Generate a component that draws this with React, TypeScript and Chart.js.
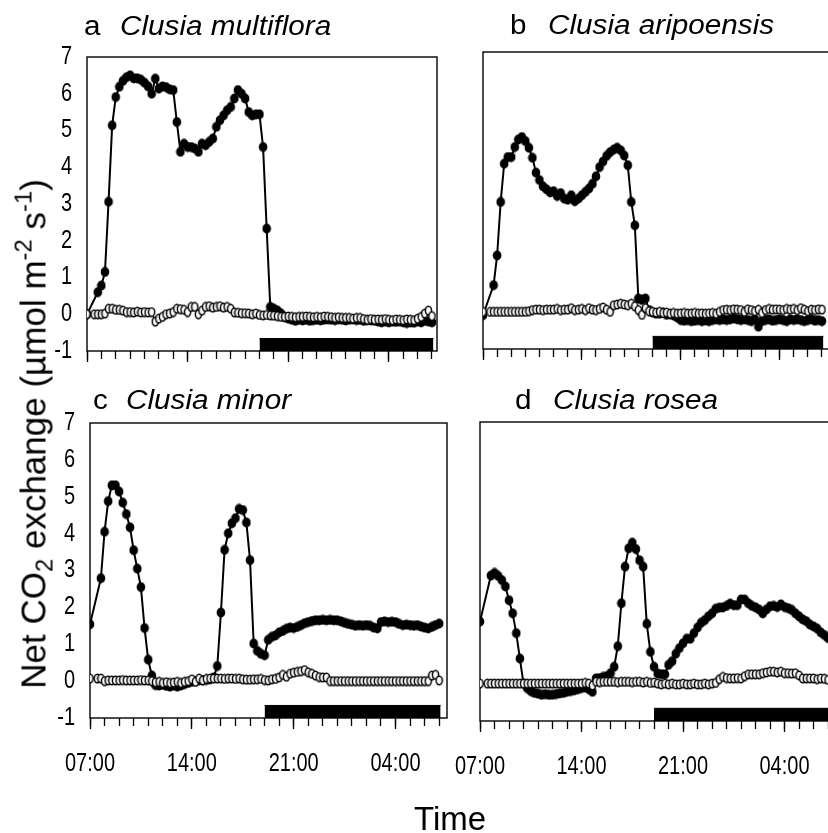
import React, { useEffect, useRef } from "react";
import { Chart, registerables } from "chart.js";

Chart.register(...registerables);

// ---------------- data ----------------
// sampling times, hours after 07:00 (15-minute steps)
const HOURS = [
  0, 0.25, 0.5, 0.75,
  1, 1.25, 1.5, 1.75,
  2, 2.25, 2.5, 2.75,
  3, 3.25, 3.5, 3.75,
  4, 4.25, 4.5, 4.75,
  5, 5.25, 5.5, 5.75,
  6, 6.25, 6.5, 6.75,
  7, 7.25, 7.5, 7.75,
  8, 8.25, 8.5, 8.75,
  9, 9.25, 9.5, 9.75,
  10, 10.25, 10.5, 10.75,
  11, 11.25, 11.5, 11.75,
  12, 12.25, 12.5, 12.75,
  13, 13.25, 13.5, 13.75,
  14, 14.25, 14.5, 14.75,
  15, 15.25, 15.5, 15.75,
  16, 16.25, 16.5, 16.75,
  17, 17.25, 17.5, 17.75,
  18, 18.25, 18.5, 18.75,
  19, 19.25, 19.5, 19.75,
  20, 20.25, 20.5, 20.75,
  21, 21.25, 21.5, 21.75,
  22, 22.25, 22.5, 22.75,
  23, 23.25, 23.5, 23.75,
  24,
];

const TIME_TICK_LABELS = ["07:00", "14:00", "21:00", "04:00"];
const MAJOR_TICK_STEP = 7; // hours between labelled ticks
const Y_MIN = -1;
const Y_MAX = 7;
const DARK_START = 12; // 19:00
const DARK_END = 24.1;
const DARK_BAR_BOTTOM = -1;
const DARK_BAR_TOP = -0.66;

// a  Clusia multiflora
const multifloraFilled = [
  0.0, null, null, 0.6,
  0.78, 1.15, 3.06, 5.14,
  5.91, 6.19, 6.35, 6.45,
  6.5, 6.42, 6.42, 6.38,
  6.3, 6.2, 6.0, 6.41,
  6.14, 6.2, 6.18, 6.12,
  6.1, 5.23, 4.42, 4.64,
  4.55, 4.55, 4.51, 4.42,
  4.64, 4.6, 4.69, 4.78,
  5.1, 5.28, 5.41, 5.55,
  5.64, 5.87, 6.1, 6.0,
  5.87, 5.5, 5.41, 5.44,
  5.44, 4.55, 2.33, 0.2,
  0.15, 0.1, 0.02, -0.08,
  -0.12, -0.15, -0.18, -0.15,
  -0.17, -0.15, -0.18, -0.16,
  -0.15, -0.17, -0.15, -0.14,
  -0.15, -0.16, -0.14, -0.15,
  -0.17, -0.15, -0.14, -0.16,
  -0.15, -0.18, -0.16, -0.17,
  -0.18, -0.2, -0.22, -0.2,
  -0.22, -0.2, -0.21, -0.2,
  -0.22, -0.24, -0.22, -0.23,
  -0.2, -0.22, -0.18, -0.2,
  -0.22,
];
const multifloraOpen = [
  0.0, null, 0.0, 0.0,
  0.0, 0.02, 0.15, 0.15,
  0.12, 0.12, 0.1, 0.06,
  0.06, 0.05, 0.07, 0.05,
  0.06, 0.05, 0.06, -0.2,
  -0.12, -0.07, 0.0, 0.02,
  0.06, 0.15, 0.14, 0.12,
  0.06, 0.2, 0.2, 0.0,
  0.1, 0.2, 0.22, 0.18,
  0.2, 0.22, 0.18, 0.2,
  0.15, 0.05, 0.04, 0.03,
  0.03, 0.02, 0.0, 0.02,
  -0.02, -0.03, -0.02, -0.03,
  -0.04, -0.05, -0.07, -0.07,
  -0.06, -0.07, -0.08, -0.07,
  -0.07, -0.06, -0.07, -0.08,
  -0.07, -0.08, -0.06, -0.07,
  -0.08, -0.1, -0.08, -0.1,
  -0.1, -0.1, -0.12, -0.1,
  -0.1, -0.13, -0.15, -0.13,
  -0.15, -0.14, -0.15, -0.13,
  -0.15, -0.16, -0.14, -0.15,
  -0.16, -0.14, -0.15, -0.16,
  -0.12, -0.07, 0.02, 0.1,
  -0.05,
];

// b  Clusia aripoensis
const aripoensisFilled = [
  -0.09, null, null, 0.72,
  1.52, 2.96, 3.99, 4.17,
  4.17, 4.44, 4.64, 4.71,
  4.6, 4.42, 4.15, 3.75,
  3.55, 3.38, 3.3, 3.22,
  3.25, 3.12, 3.2, 3.05,
  3.02, 3.14, 2.98, 3.05,
  3.14, 3.23, 3.32, 3.45,
  3.65, 3.9, 4.05, 4.2,
  4.3, 4.37, 4.42, 4.35,
  4.21, 3.95, 2.96, 2.33,
  0.36, 0.32, 0.36, 0.05,
  -0.02, -0.05, -0.05, -0.03,
  -0.08, -0.06, -0.1, -0.15,
  -0.22, -0.24, -0.22, -0.25,
  -0.24, -0.22, -0.25, -0.23,
  -0.25, -0.22, -0.2, -0.22,
  -0.2, -0.22, -0.2, -0.18,
  -0.2, -0.22, -0.2, -0.22,
  -0.25, -0.2, -0.4, -0.25,
  -0.22, -0.2, -0.24, -0.22,
  -0.2, -0.22, -0.25, -0.2,
  -0.22, -0.2, -0.22, -0.25,
  -0.22, -0.2, -0.24, -0.22,
  -0.25,
];
const aripoensisOpen = [
  0.0, null, 0.0, 0.0,
  0.0, 0.0, 0.0, 0.0,
  0.0, 0.0, 0.0, 0.0,
  0.0, 0.02, 0.05, 0.06,
  0.06, 0.05, 0.06, 0.06,
  0.06, 0.08, 0.05, 0.06,
  0.06, 0.1, 0.05, 0.06,
  0.08, 0.05, 0.1, 0.06,
  0.05, 0.08, 0.12, 0.06,
  0.0, 0.18, 0.2, 0.22,
  0.2, 0.18, 0.22, 0.15,
  0.05, -0.08, 0.1, 0.02,
  0.0, -0.02, 0.0, -0.03,
  -0.02, -0.05, -0.03, -0.05,
  -0.04, -0.03, -0.05, -0.04,
  -0.03, -0.05, -0.04, -0.05,
  -0.04, -0.03, -0.05, 0.0,
  0.05, 0.06, 0.05, 0.07,
  0.06, 0.05, 0.0, 0.07,
  0.05, 0.02, 0.06, -0.03,
  0.05, 0.08, 0.06, 0.07,
  0.06, 0.05, 0.08, 0.06,
  0.08, 0.05, 0.1, 0.06,
  0.02, 0.06, 0.05, 0.07,
  0.06,
];

// c  Clusia minor
const minorFilled = [
  1.54, null, null, 2.79,
  4.05, 4.88, 5.31, 5.31,
  5.14, 4.84, 4.53, 4.17,
  3.55, 3.05, 2.55, 1.44,
  0.58, 0.15, -0.11, -0.12,
  -0.1, -0.13, -0.15, -0.12,
  -0.15, -0.12, -0.08, -0.05,
  -0.02, 0.0, 0.02, 0.03,
  0.03, 0.05, 0.1, 0.41,
  1.86, 3.56, 4.01, 4.28,
  4.42, 4.67, 4.64, 4.3,
  3.28, 1.02, 0.82, 0.74,
  0.7, 1.12, 1.2, 1.24,
  1.32, 1.36, 1.42, 1.45,
  1.44, 1.47, 1.52, 1.57,
  1.6, 1.63, 1.65, 1.65,
  1.66, 1.65, 1.66, 1.65,
  1.65, 1.62, 1.58, 1.55,
  1.53, 1.5, 1.52, 1.5,
  1.52, 1.5, 1.45, 1.43,
  1.6, 1.62, 1.6, 1.61,
  1.6, 1.55, 1.52, 1.53,
  1.52, 1.5, 1.52, 1.48,
  1.45, 1.43, 1.47, 1.52,
  1.56,
];
const minorOpen = [
  0.07, null, 0.07, 0.07,
  0.0, 0.02, 0.02, 0.02,
  0.02, 0.03, 0.02, 0.02,
  0.02, 0.02, 0.03, 0.02,
  0.02, 0.0, -0.03, -0.02,
  -0.05, -0.03, -0.05, -0.04,
  -0.02, -0.05, -0.02, 0.0,
  0.05, -0.02, 0.07, 0.02,
  0.06, 0.07, 0.07, 0.07,
  0.07, 0.06, 0.07, 0.07,
  0.06, 0.07, 0.05, 0.04,
  0.04, 0.05, 0.05, 0.06,
  0.03, 0.02, 0.05, 0.06,
  0.1, 0.17, 0.12, 0.2,
  0.23, 0.25, 0.27, 0.3,
  0.24, 0.2, 0.15, 0.11,
  0.1, 0.1, 0.0, 0.0,
  0.0, 0.0, 0.0, 0.0,
  0.0, 0.0, 0.0, 0.0,
  0.0, 0.0, 0.0, 0.0,
  0.0, 0.0, 0.0, 0.0,
  0.0, 0.0, 0.0, 0.0,
  0.0, 0.0, 0.0, 0.0,
  0.0, 0.0, 0.15, 0.17,
  0.02,
];

// d  Clusia rosea
const roseaFilled = [
  1.66, null, null, 2.89,
  2.96, 2.88, 2.77, 2.6,
  2.23, 1.88, 1.35, 0.67,
  0.0, -0.12, -0.2, -0.25,
  -0.27, -0.3, -0.28, -0.3,
  -0.3, -0.28, -0.26, -0.25,
  -0.22, -0.2, -0.18, -0.15,
  -0.12, -0.1, -0.15, -0.22,
  0.14, 0.15, 0.18, 0.2,
  0.28, 0.45, 1.0, 2.15,
  3.13, 3.62, 3.77, 3.6,
  3.3, 3.13, 1.6, 0.85,
  0.45, 0.27, 0.25, 0.25,
  0.5, 0.6, 0.8, 0.95,
  1.08, 1.2, 1.2, 1.35,
  1.5, 1.63, 1.7, 1.8,
  1.88, 2.0, 2.03, 2.04,
  2.08, 2.14, 2.1, 2.1,
  2.25, 2.25, 2.15, 2.08,
  2.04, 1.98, 1.88, 1.98,
  2.07, 2.08, 2.05, 2.12,
  2.05, 2.02, 1.97, 1.88,
  1.8, 1.72, 1.67, 1.58,
  1.53, 1.47, 1.37, 1.3,
  1.22,
];
const roseaOpen = [
  0.0, null, 0.0, 0.0,
  0.0, 0.0, 0.0, 0.0,
  0.0, 0.0, 0.0, 0.0,
  0.0, 0.0, 0.0, 0.0,
  0.0, 0.0, 0.0, 0.0,
  0.0, 0.0, 0.0, 0.0,
  0.0, 0.0, 0.0, 0.0,
  0.0, 0.02, 0.0, -0.05,
  0.05, 0.04, 0.05, 0.05,
  0.05, 0.05, 0.04, 0.05,
  0.05, 0.05, 0.04, 0.05,
  0.05, 0.03, 0.05, 0.02,
  0.03, 0.0, -0.02, 0.0,
  -0.02, 0.0, -0.02, -0.02,
  0.0, -0.02, -0.02, 0.0,
  -0.02, -0.02, 0.0, -0.02,
  0.0, 0.02, 0.12, 0.18,
  0.15, 0.14, 0.14, 0.15,
  0.14, 0.2, 0.25, 0.25,
  0.25, 0.25, 0.28, 0.3,
  0.32, 0.32, 0.3, 0.32,
  0.28, 0.28, 0.27, 0.28,
  0.22, 0.14, 0.14, 0.14,
  0.14, 0.12, 0.14, 0.13,
  0.1,
];

// ---------------- layout ----------------
const CANVAS_W = 860;
const CANVAS_H = 833;
const Y_AXIS_W = 80;
const X_AXIS_H = 70;
const TICK_TEXT_SCALE_X = 0.8; // narrow (condensed) tick lettering
const TICK_FONT = "'Liberation Sans', Arial, sans-serif";
const TEXT_FONT = "'Liberation Sans', Arial, sans-serif";

type Box = { left: number; top: number; right: number; bottom: number; xMax: number };

const framePlugin = {
  id: "frame",
  beforeDatasetsDraw(chart: any) {
    const { ctx, chartArea } = chart;
    const { left, top, right, bottom } = chartArea;
    ctx.save();
    ctx.strokeStyle = "#000";
    ctx.lineWidth = 1.4;
    ctx.strokeRect(left, top, right - left, bottom - top);
    ctx.restore();
  },
};

function makeDot(w: number, h: number, rx: number, ry: number, fill: string, stroke: string | null, lw: number) {
  const c = document.createElement("canvas");
  c.width = w;
  c.height = h;
  const g = c.getContext("2d")!;
  g.beginPath();
  g.ellipse(w / 2, h / 2, rx, ry, 0, 0, Math.PI * 2);
  g.fillStyle = fill;
  g.fill();
  if (stroke) {
    g.lineWidth = lw;
    g.strokeStyle = stroke;
    g.stroke();
  }
  return c;
}

function Panel({
  filled,
  open,
  box,
  showY,
  showX,
}: {
  filled: (number | null)[];
  open: (number | null)[];
  box: Box;
  showY: boolean;
  showX: boolean;
}) {
  const ref = useRef<HTMLCanvasElement>(null);
  useEffect(() => {
    const canvas = ref.current!;
    const ctx = canvas.getContext("2d")!;
    // draw the (only) canvas text, the tick labels, horizontally condensed
    const nativeFill = ctx.fillText.bind(ctx);
    (ctx as any).fillText = (text: string, x: number, y: number, maxWidth?: number) => {
      ctx.save();
      ctx.translate(x, y);
      ctx.scale(TICK_TEXT_SCALE_X, 1);
      if (maxWidth === undefined || maxWidth === null) nativeFill(text, 0, 0);
      else nativeFill(text, 0, 0, maxWidth / TICK_TEXT_SCALE_X);
      ctx.restore();
    };
    const openDot = makeDot(9, 11, 3.1, 4.2, "#fff", "#000", 1.5);
    const filledDot = makeDot(10, 11, 4.3, 4.9, "#000", null, 0);
    const toXY = (vals: (number | null)[]) => HOURS.map((h, i) => ({ x: h, y: vals[i] }));
    const yW = showY ? Y_AXIS_W : 0;
    const chart = new Chart(canvas, {
      type: "line",
      data: {
        datasets: [
          {
            label: "open",
            data: toXY(open) as any,
            order: 0,
            borderColor: "#000",
            borderWidth: 1.2,
            pointStyle: openDot as any,
            pointRadius: 3,
            spanGaps: true,
            fill: false,
            xAxisID: "x",
            yAxisID: "y",
          },
          {
            label: "filled",
            data: toXY(filled) as any,
            order: 1,
            borderColor: "#000",
            borderWidth: 2,
            pointStyle: filledDot as any,
            pointRadius: 4,
            spanGaps: true,
            fill: false,
            xAxisID: "x",
            yAxisID: "y",
          },
          {
            label: "dark",
            data: [
              { x: DARK_START, y: DARK_BAR_TOP },
              { x: DARK_END, y: DARK_BAR_TOP },
            ],
            order: 2,
            borderColor: "#000",
            borderWidth: 1,
            backgroundColor: "#000",
            pointRadius: 0,
            fill: { value: DARK_BAR_BOTTOM } as any,
            xAxisID: "x",
            yAxisID: "y",
          },
        ],
      },
      options: {
        responsive: false,
        animation: false,
        devicePixelRatio: 1,
        events: [],
        layout: {
          padding: {
            left: box.left - yW,
            top: box.top,
            right: CANVAS_W - box.right,
            bottom: CANVAS_H - box.bottom - X_AXIS_H,
          },
        },
        plugins: { legend: { display: false }, tooltip: { enabled: false } },
        scales: {
          x: {
            type: "linear",
            position: "bottom",
            weight: 0,
            min: 0,
            max: box.xMax,
            bounds: "data",
            afterFit: (s: any) => {
              s.height = 0;
            },
            border: { display: false },
            grid: {
              drawOnChartArea: false,
              drawTicks: true,
              tickLength: 8,
              tickWidth: 1.3,
              color: "#000",
              tickColor: (c: any) => (Number.isInteger(c.tick?.value) ? "#000" : "rgba(0,0,0,0)"),
            },
            ticks: { stepSize: 1, includeBounds: false, autoSkip: false, maxRotation: 0, callback: () => "" },
          } as any,
          x2: {
            type: "linear",
            position: "bottom",
            weight: 1,
            min: 0,
            max: box.xMax,
            bounds: "data",
            afterFit: (s: any) => {
              s.height = X_AXIS_H;
            },
            border: { display: false },
            grid: {
              drawOnChartArea: false,
              drawTicks: true,
              tickLength: 11,
              tickWidth: 1.3,
              color: "#000",
              tickColor: (c: any) => (c.tick && c.tick.value % MAJOR_TICK_STEP === 0 ? "#000" : "rgba(0,0,0,0)"),
            },
            ticks: {
              display: showX,
              stepSize: MAJOR_TICK_STEP,
              includeBounds: false,
              autoSkip: false,
              maxRotation: 0,
              padding: 20,
              color: "#000",
              font: { family: TICK_FONT, size: 25 },
              callback: (v: any) => TIME_TICK_LABELS[Math.round(Number(v) / MAJOR_TICK_STEP)] ?? "",
            },
          } as any,
          y: {
            type: "linear",
            position: "left",
            min: Y_MIN,
            max: Y_MAX,
            afterFit: (s: any) => {
              s.width = yW;
            },
            border: { display: false },
            grid: { display: false, drawTicks: false },
            ticks: {
              display: showY,
              stepSize: 1,
              padding: 15,
              color: "#000",
              font: { family: TICK_FONT, size: 25 },
            },
          } as any,
        },
      },
      plugins: [framePlugin],
    });
    return () => chart.destroy();
  }, []);
  return (
    <canvas
      ref={ref}
      width={CANVAS_W}
      height={CANVAS_H}
      style={{ position: "absolute", left: 0, top: 0, width: CANVAS_W, height: CANVAS_H, display: "block" }}
    />
  );
}

const BOX_A: Box = { left: 87, top: 57, right: 437, bottom: 351, xMax: 24.35 };
const BOX_B: Box = { left: 483, top: 52, right: 831, bottom: 349, xMax: 24.64 };
const BOX_C: Box = { left: 90, top: 423, right: 447, bottom: 718, xMax: 24.54 };
const BOX_D: Box = { left: 480, top: 422, right: 837, bottom: 721, xMax: 24.62 };

function Title({ letter, species, x1, x2, top }: { letter: string; species: string; x1: number; x2: number; top: number }) {
  const common: React.CSSProperties = {
    position: "absolute",
    top,
    fontSize: 27,
    lineHeight: "27px",
    whiteSpace: "nowrap",
    transform: "scaleX(1.1)",
    transformOrigin: "left top",
  };
  return (
    <>
      <div style={{ ...common, left: x1 }}>{letter}</div>
      <div style={{ ...common, left: x2, fontStyle: "italic" }}>{species}</div>
    </>
  );
}

export default function App() {
  return (
    <div
      style={{
        position: "fixed",
        left: 0,
        top: 0,
        width: 828,
        height: 833,
        overflow: "hidden",
        background: "#fff",
        fontFamily: TEXT_FONT,
        color: "#000",
      }}
    >
      <Panel filled={multifloraFilled} open={multifloraOpen} box={BOX_A} showY={true} showX={false} />
      <Panel filled={aripoensisFilled} open={aripoensisOpen} box={BOX_B} showY={false} showX={false} />
      <Panel filled={minorFilled} open={minorOpen} box={BOX_C} showY={true} showX={true} />
      <Panel filled={roseaFilled} open={roseaOpen} box={BOX_D} showY={false} showX={true} />

      <Title letter="a" species="Clusia multiflora" x1={84} x2={120} top={13} />
      <Title letter="b" species="Clusia aripoensis" x1={510} x2={548} top={12} />
      <Title letter="c" species="Clusia minor" x1={93} x2={126} top={387} />
      <Title letter="d" species="Clusia rosea" x1={515} x2={553} top={387} />

      <div
        style={{
          position: "absolute",
          left: 33,
          top: 434,
          fontSize: 35,
          lineHeight: "35px",
          whiteSpace: "nowrap",
          transform: "translate(-50%, -50%) rotate(-90deg)",
        }}
      >
        Net CO<sub style={{ fontSize: "0.68em", verticalAlign: "-0.3em", lineHeight: 0 }}>2</sub> exchange (µmol m
        <sup style={{ fontSize: "0.68em", verticalAlign: "0.6em", lineHeight: 0 }}>-2</sup> s
        <sup style={{ fontSize: "0.68em", verticalAlign: "0.6em", lineHeight: 0 }}>-1</sup>)
      </div>

      <div style={{ position: "absolute", left: 414, top: 802, fontSize: 33, lineHeight: "33px", whiteSpace: "nowrap" }}>
        Time
      </div>
    </div>
  );
}
